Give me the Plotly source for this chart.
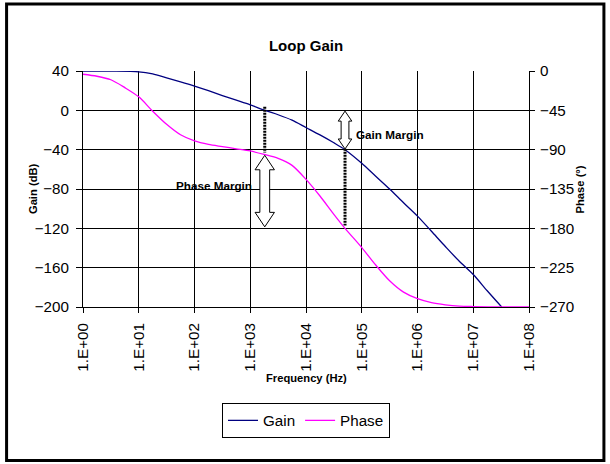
import plotly.graph_objects as go

# ---------------- data ----------------
GAIN_FREQ_HZ = [1, 3.16, 10, 17.8, 31.6, 56.2, 100, 178, 316, 562, 1000, 1820,
                3160, 5620, 1e4, 1.78e4, 3.16e4, 5.01e4, 1e5, 1.78e5, 3.16e5,
                5.62e5, 1e6, 1.78e6, 3.16e6, 5.62e6, 1e7, 1.78e7, 3.24e7]
GAIN_DB = [40, 39.9, 39.2, 37, 33, 29, 24.7, 20, 15, 10.3, 5.6, 0,
           -4.5, -10, -17.5, -25, -33, -40, -53.8, -67, -80,
           -94, -107.6, -123, -138.5, -153.5, -167, -183.5, -200]

PHASE_FREQ_HZ = [1, 1.78, 3.16, 5.62, 10, 17.8, 31.6, 56.2, 100, 178, 316, 562,
                 1000, 1780, 3160, 5620, 1e4, 1.78e4, 3.16e4, 5.01e4, 1e5,
                 1.78e5, 3.16e5, 5.62e5, 1e6, 1.78e6, 3.16e6, 5.62e6, 1e7,
                 3.16e7, 1e8]
PHASE_DEG = [-3.7, -6, -10, -19, -29.6, -46, -61, -73, -80, -84, -86.5, -89,
             -91.5, -95.5, -100, -108, -124, -143, -164, -180, -202,
             -222, -240, -253, -260.5, -265, -267.5, -269, -269.5,
             -270, -270]

X_TICK_VALUES = [1, 10, 100, 1e3, 1e4, 1e5, 1e6, 1e7, 1e8]
X_TICK_LABELS = ["1.E+00", "1.E+01", "1.E+02", "1.E+03", "1.E+04",
                 "1.E+05", "1.E+06", "1.E+07", "1.E+08"]
GAIN_TICKS = [40, 0, -40, -80, -120, -160, -200]
PHASE_TICKS = [0, -45, -90, -135, -180, -225, -270]

# margin markers (frequency in Hz, levels in dB on the gain axis)
PM_FREQ = 1820
PM_LINE_DB = [3.7, -43]
PM_ARROW_DB = [-45.7, -118.5]
GM_FREQ = 50100
GM_LINE_DB = [-39, -117]
GM_ARROW_DB = [-0.8, -39.3]

# ---------------- layout geometry ----------------
W, H = 610, 464
ML, MR, MT, MB = 82.5, 81, 71, 157
PW, PH = W - ML - MR, H - MT - MB
FONT = "Arial, Liberation Sans, sans-serif"
DB_PER_PX = (GAIN_TICKS[0] - GAIN_TICKS[-1]) / PH


def px_x(x):
    return (x - ML) / PW


def px_y(y):
    return (H - MB - y) / PH


fig = go.Figure()

fig.add_trace(go.Scatter(
    x=GAIN_FREQ_HZ, y=GAIN_DB, name="Gain", mode="lines",
    line=dict(color="#000080", width=1.3, shape="spline", smoothing=0.8),
    yaxis="y"))
fig.add_trace(go.Scatter(
    x=PHASE_FREQ_HZ, y=PHASE_DEG, name="Phase", mode="lines",
    line=dict(color="#FF00FF", width=1.3, shape="spline", smoothing=0.8),
    yaxis="y2"))

# dotted marker lines
for f, ys in ((PM_FREQ, PM_LINE_DB), (GM_FREQ, GM_LINE_DB)):
    fig.add_trace(go.Scatter(
        x=[f, f], y=ys, mode="lines", showlegend=False, hoverinfo="skip",
        line=dict(color="black", width=3, dash="2px,1px"), yaxis="y"))


def block_arrow(freq, ytop, ybot, head_px, hw, sw):
    hl = head_px * DB_PER_PX
    pts = [(0, ytop), (hw, ytop - hl), (sw, ytop - hl), (sw, ybot + hl),
           (hw, ybot + hl), (0, ybot), (-hw, ybot + hl), (-sw, ybot + hl),
           (-sw, ytop - hl), (-hw, ytop - hl)]
    path = "M " + " L ".join(f"{a},{b}" for a, b in pts) + " Z"
    return dict(type="path", xref="x", yref="y", xsizemode="pixel",
                xanchor=freq, path=path, fillcolor="white",
                line=dict(color="black", width=1), layer="above")


shapes = [
    block_arrow(PM_FREQ, PM_ARROW_DB[0], PM_ARROW_DB[1], 14.5, 9.7, 4.9),
    block_arrow(GM_FREQ, GM_ARROW_DB[0], GM_ARROW_DB[1], 10, 6.8, 3.9),
    # outer chart frame
    dict(type="rect", xref="paper", yref="paper",
         x0=px_x(6), x1=px_x(604), y0=px_y(460.5), y1=px_y(4),
         line=dict(color="black", width=3), fillcolor="rgba(0,0,0,0)",
         layer="above"),
]

annotations = [
    dict(text="Gain (dB)", xref="paper", yref="paper", x=px_x(24.5), y=0.5,
         textangle=-90, showarrow=False,
         font=dict(family=FONT, size=11.2, color="black", weight="bold")),
    dict(text="Phase (°)", xref="paper", yref="paper", x=px_x(588.5), y=0.5,
         textangle=-90, showarrow=False,
         font=dict(family=FONT, size=11.2, color="black", weight="bold")),
    dict(text="Frequency (Hz)", xref="paper", yref="paper", x=0.5,
         y=px_y(385.5), showarrow=False,
         font=dict(family=FONT, size=11.2, color="black", weight="bold")),
    dict(text="Gain Margin", xref="paper", yref="paper", x=px_x(354),
         y=px_y(126.3), xanchor="left", showarrow=False,
         font=dict(family=FONT, size=11.7, color="black", weight="bold")),
    dict(text="Phase Margin", xref="paper", yref="paper", x=px_x(254),
         y=px_y(185.4), xanchor="right", showarrow=False,
         font=dict(family=FONT, size=11.7, color="black", weight="bold")),
]

tickfont = dict(family=FONT, size=15.2, color="black")

fig.update_layout(
    width=W, height=H,
    margin=dict(l=ML, r=MR, t=MT, b=MB, autoexpand=False),
    paper_bgcolor="white", plot_bgcolor="white",
    font=dict(family=FONT, color="black"),
    title=dict(text="Loop Gain", x=0.5, xref="paper", xanchor="center",
               y=1 - 45.3 / H, yref="container", yanchor="middle",
               font=dict(family=FONT, size=15, color="black", weight="bold")),
    xaxis=dict(type="log", range=[0, 8], tickvals=X_TICK_VALUES,
               ticktext=X_TICK_LABELS, tickangle=-90, tickfont=tickfont,
               showgrid=True, gridcolor="black", gridwidth=1,
               showline=True, linecolor="black", linewidth=1,
               ticks="outside", ticklen=5, tickcolor="black",
               ticklabelstandoff=4, zeroline=False),
    yaxis=dict(range=[GAIN_TICKS[-1], GAIN_TICKS[0]], tickvals=GAIN_TICKS,
               tickfont=tickfont, showgrid=True, gridcolor="black",
               gridwidth=1, showline=True, linecolor="black", linewidth=1,
               ticks="outside", ticklen=6, tickcolor="black",
               ticklabelstandoff=4, zeroline=False),
    yaxis2=dict(range=[PHASE_TICKS[-1], PHASE_TICKS[0]], tickvals=PHASE_TICKS,
                overlaying="y", side="right", tickfont=tickfont,
                showgrid=False, showline=True, linecolor="black", linewidth=1,
                ticks="outside", ticklen=5, tickcolor="black",
                ticklabelstandoff=2, zeroline=False),
    legend=dict(orientation="h", x=0.5, xanchor="center", y=px_y(403),
                yanchor="top", bgcolor="white", bordercolor="black",
                borderwidth=1, itemwidth=30, font=dict(family=FONT, size=15.2),
                tracegroupgap=0),
    showlegend=True,
    shapes=shapes,
    annotations=annotations,
)

# place the figure at the window origin (remove the page's default body margin)
fig.write_html("out.html",
               config={"displayModeBar": False},
               post_script="document.body.style.margin='0';"
                           "document.body.style.overflow='hidden';")
